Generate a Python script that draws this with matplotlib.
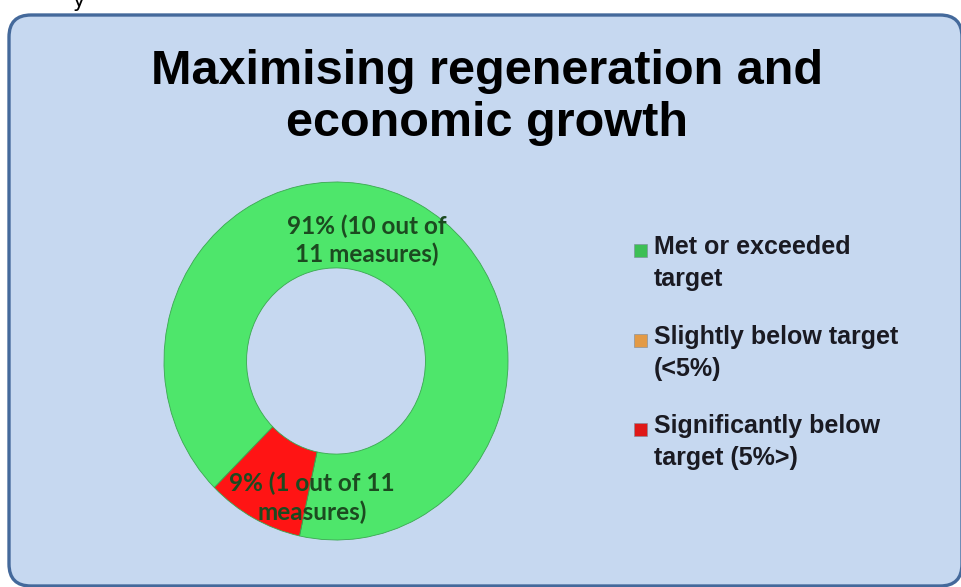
import matplotlib.pyplot as plt
from matplotlib.patches import FancyBboxPatch, Rectangle

# Data
categories = ['Met or exceeded\ntarget', 'Slightly below target\n(<5%)', 'Significantly below\ntarget (5%>)']
measures = [10, 0, 1]
colors = ['#4ee66b', '#f0a040', '#ff1414']
marker_colors = ['#3cbf55', '#e39a45', '#e01818']
slice_labels = ['91% (10 out of\n11 measures)', '', '9% (1 out of 11\nmeasures)']
title = 'Maximising regeneration and\neconomic growth'

fig = plt.figure(figsize=(9.61, 5.87), dpi=100)
fig.patch.set_facecolor('white')

# rounded panel behind everything (pixel coords)
panel = FancyBboxPatch((9, 1), 953, 571, boxstyle='round,pad=0,rounding_size=22',
                       transform=None, facecolor='#c6d8f0', edgecolor='#44699b',
                       linewidth=2.4, zorder=0)
fig.patches.append(panel)

# leftover glyph from text above the screenshot
fig.text(72 / 961, 1 - 7 / 587, 'y', fontsize=15, va='baseline', ha='left', color='black')

fig.text(0.507, 0.834, title, ha='center', va='center', fontsize=35, fontweight='bold',
         family=['Liberation Sans Narrow', 'Liberation Sans'], linespacing=1.19, zorder=2)

# donut (the reference ring is slightly taller than wide, so no equal aspect)
ax = fig.add_axes([164 / 961, 47 / 587, 344 / 961, 358 / 587])
ax.set_zorder(1)
wedges, _ = ax.pie(measures, colors=colors, startangle=225, counterclock=False, radius=1,
                   wedgeprops=dict(width=0.48, edgecolor='#3aa850', linewidth=0.6))
ax.set_xlim(-1, 1)
ax.set_ylim(-1, 1)
ax.set_aspect('auto')
ax.axis('off')

label_pos = [(0.18, 0.675), None, (-0.14, -0.765)]
for lab, pos in zip(slice_labels, label_pos):
    if pos is None:
        continue
    ax.text(pos[0], pos[1], lab, ha='center', va='center', fontsize=17.5, fontweight='bold',
            family='Lato', color='#1c4a20', linespacing=1.25)

# legend, drawn by hand so the square sits on the first line
leg_x = 634
leg_base = [257, 347, 436]
for cat, col, yb in zip(categories, marker_colors, leg_base):
    fig.patches.append(Rectangle((leg_x / 961, 1 - yb / 587), 13 / 961, 13 / 587,
                                 transform=fig.transFigure, facecolor=col,
                                 edgecolor='#7a8a9a', linewidth=0.4, zorder=2))
    fig.text(654 / 961, 1 - (yb - 22) / 587, cat, ha='left', va='top', fontsize=18,
             fontweight='bold', family='Liberation Sans', color='#1a1a22', linespacing=1.42,
             zorder=2)

fig.savefig('out.png', dpi=100, facecolor=fig.get_facecolor())
